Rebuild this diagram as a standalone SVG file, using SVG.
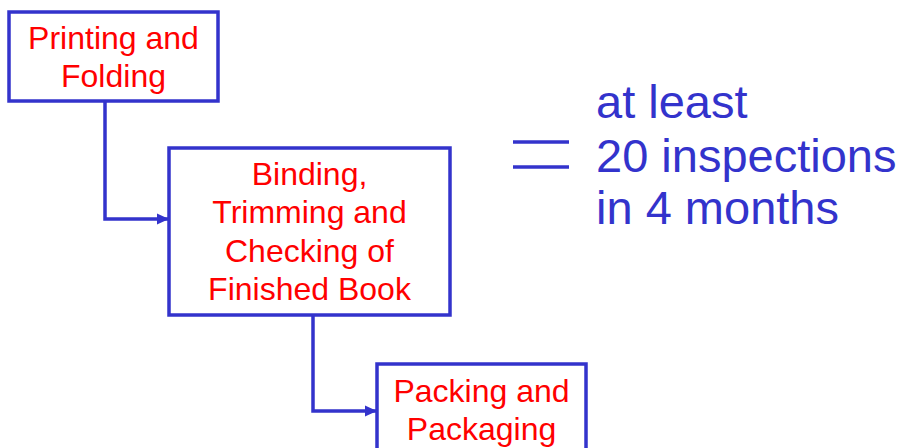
<svg xmlns="http://www.w3.org/2000/svg" width="906" height="448" viewBox="0 0 906 448">
<style>
.box{fill:#fff;stroke:#3333CC;stroke-width:3.5}
.lbl{font-family:"Liberation Sans",Arial,sans-serif;font-size:32px;fill:#FF0000;text-anchor:middle}
.conn{fill:none;stroke:#3333CC;stroke-width:3.5}
.big{font-family:"Liberation Sans",Arial,sans-serif;font-size:47px;fill:#3333CC}
</style>
<defs>
<marker id="arr" markerWidth="12" markerHeight="12" refX="11" refY="6" orient="auto" markerUnits="userSpaceOnUse">
<path d="M0,0.5 L12,6 L0,11.5 Z" fill="#3333CC"/>
</marker>
</defs>
<rect width="906" height="448" fill="#fff"/>
<g id="connectors">
<path class="conn" d="M105,101 V219 H168" marker-end="url(#arr)"/>
<path class="conn" d="M313,315 V411 H376" marker-end="url(#arr)"/>
</g>
<g id="node-printing">
<rect class="box" x="9" y="12" width="209" height="89"/>
<text class="lbl" x="113.5" y="49">Printing and</text>
<text class="lbl" x="113.5" y="87">Folding</text>
</g>
<g id="node-binding">
<rect class="box" x="169" y="148" width="281" height="167"/>
<text class="lbl" x="309.5" y="185">Binding,</text>
<text class="lbl" x="309.5" y="223">Trimming and</text>
<text class="lbl" x="309.5" y="262">Checking of</text>
<text class="lbl" x="309.5" y="300">Finished Book</text>
</g>
<g id="node-packing">
<rect class="box" x="377" y="364" width="209" height="100"/>
<text class="lbl" x="481.5" y="402">Packing and</text>
<text class="lbl" x="481.5" y="440">Packaging</text>
</g>
<g id="equals">
<line x1="513" y1="142" x2="569" y2="142" stroke="#3333CC" stroke-width="3.5"/>
<line x1="513" y1="167" x2="569" y2="167" stroke="#3333CC" stroke-width="3.5"/>
</g>
<g id="note">
<text class="big" x="596" y="118">at least</text>
<text class="big" x="596" y="172">20 inspections</text>
<text class="big" x="596" y="224">in 4 months</text>
</g>
</svg>
